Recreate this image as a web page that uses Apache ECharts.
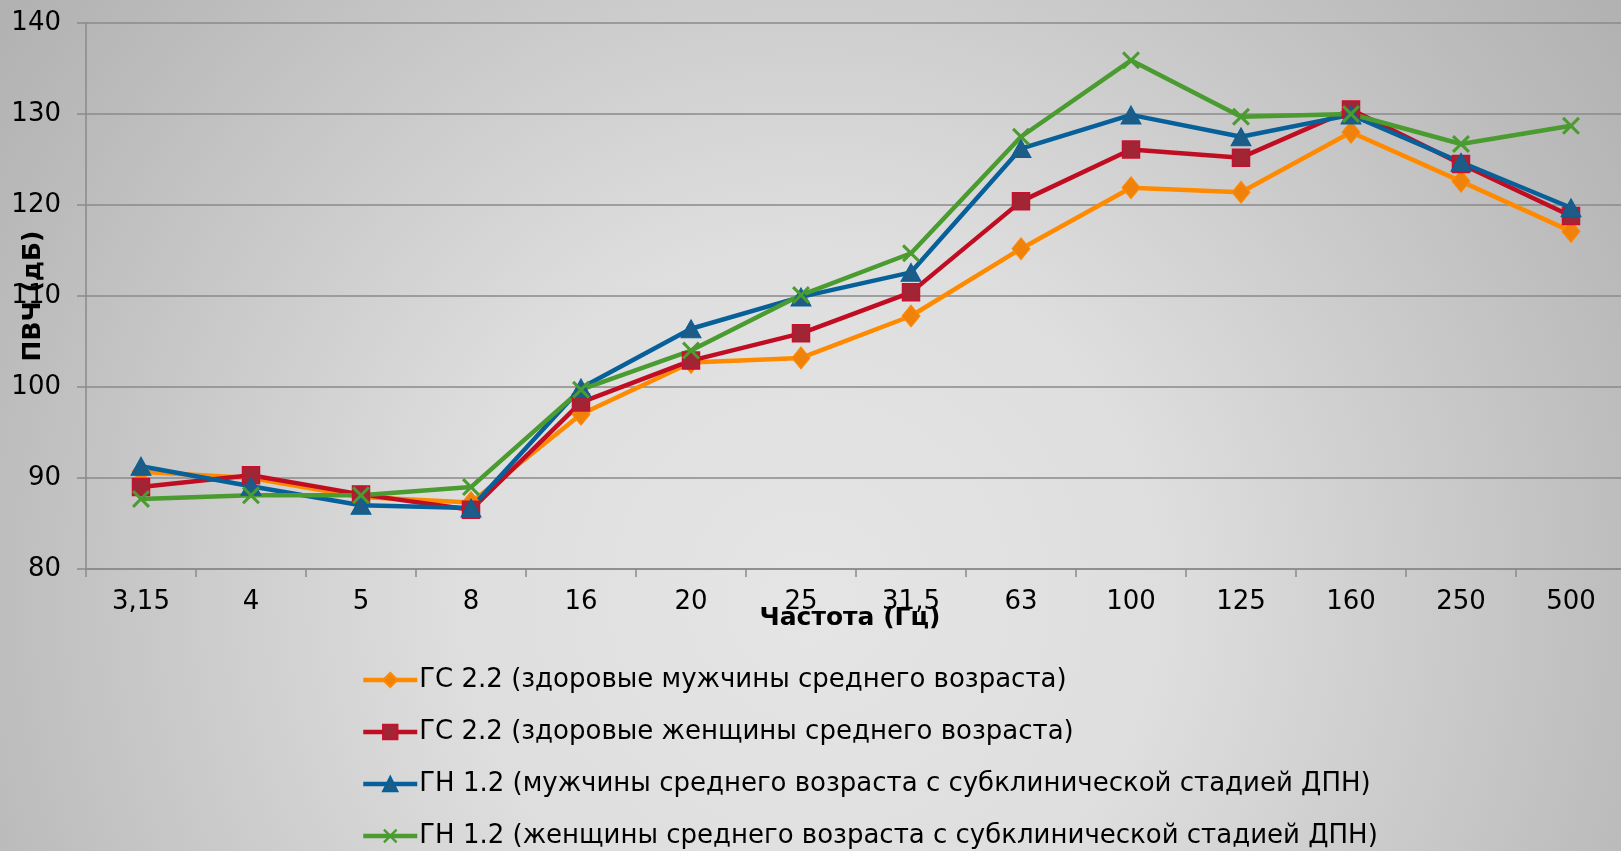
<!DOCTYPE html>
<html><head><meta charset="utf-8">
<script src="https://cdn.jsdelivr.net/npm/echarts@6/dist/echarts.min.js"></script>
<style>html,body{margin:0;padding:0;}#c{width:1621px;height:851px;}</style>
</head><body><div id="c"></div>
<script>
const categories = ['3,15','4','5','8','16','20','25','31,5','63','100','125','160','250','500'];
const menHealthy   = [90.7, 90.0, 87.9, 87.3, 97.0, 102.7, 103.2, 107.8, 115.2, 121.9, 121.4, 128.0, 122.6, 117.1];
const womenHealthy = [89.0, 90.3, 88.2, 86.5, 98.3, 102.9, 105.9, 110.4, 120.4, 126.1, 125.2, 130.5, 124.5, 118.8];
const menDPN       = [91.3, 89.1, 87.0, 86.7, 99.9, 106.4, 109.9, 112.6, 126.2, 129.9, 127.5, 129.9, 124.7, 119.7];
const womenDPN     = [87.7, 88.1, 88.1, 89.0, 99.7, 104.0, 110.1, 114.7, 127.5, 135.9, 129.7, 130.0, 126.7, 128.7];
const seriesNames = [
  'ГС 2.2 (здоровые мужчины среднего возраста)',
  'ГС 2.2 (здоровые женщины среднего возраста)',
  'ГН 1.2 (мужчины среднего возраста с субклинической стадией ДПН)',
  'ГН 1.2 (женщины среднего возраста с субклинической стадией ДПН)'
];
const xTitle = 'Частота (Гц)';
const yTitle = 'ПВЧ (дБ)';

const FONT = '"DejaVu Sans", Verdana, sans-serif';
const gridColor = '#8a8a8a';
const xSymbol = 'path://M0,1.2 L1.2,0 L5,3.8 L8.8,0 L10,1.2 L6.2,5 L10,8.8 L8.8,10 L5,6.2 L1.2,10 L0,8.8 L3.8,5 Z';

const chart = echarts.init(document.getElementById('c'), null, {renderer:'canvas'});
chart.setOption({
  animation: false,
  backgroundColor: {
    type: 'radial', x: 0.5, y: 0.7, r: 1.2,
    colorStops: [
      {offset: 0, color: '#e5e5e5'},
      {offset: 0.35, color: '#dedede'},
      {offset: 0.83, color: '#bbbbbb'},
      {offset: 1, color: '#b0b0b0'}
    ]
  },
  textStyle: {fontFamily: FONT},
  grid: {left: 86, top: 23, width: 1540, height: 546, containLabel: false, outerBoundsMode: 'none'},
  legend: {
    orient: 'vertical', left: 356, top: 662, height: 240, width: 1200,
    itemWidth: 54, itemHeight: 18, itemGap: 26,
    lineStyle: {width: 4.5},
    textStyle: {fontFamily: FONT, fontSize: 26, color: '#000', padding: [0,0,0,-3]},
    data: seriesNames
  },
  xAxis: {
    type: 'category', data: categories, boundaryGap: true,
    name: xTitle, nameLocation: 'middle', nameGap: 37, nameMoveOverlap: false,
    nameTextStyle: {fontFamily: FONT, fontSize: 25, fontWeight: 'bold', color: '#000', padding: [0, 12, 0, 0]},
    axisLine: {lineStyle: {color: gridColor, width: 1.5}},
    axisTick: {show: true, length: 8, lineStyle: {color: gridColor, width: 1.5}},
    axisLabel: {fontFamily: FONT, fontSize: 26, color: '#000', margin: 20}
  },
  yAxis: {
    type: 'value', min: 80, max: 140, interval: 10,
    name: yTitle, nameLocation: 'middle', nameGap: 40, nameMoveOverlap: false,
    nameTextStyle: {fontFamily: FONT, fontSize: 25, fontWeight: 'bold', color: '#000'},
    axisLine: {show: true, lineStyle: {color: gridColor, width: 1.5}},
    axisTick: {show: true, length: 9, lineStyle: {color: gridColor, width: 1.5}},
    axisLabel: {fontFamily: FONT, fontSize: 26, color: '#000', margin: 25},
    splitLine: {lineStyle: {color: gridColor, width: 1.5}}
  },
  series: [
    {name: seriesNames[0], type: 'line', data: menHealthy, symbol: 'diamond', symbolSize: [18, 22],
     lineStyle: {color: '#ff8a00', width: 4.5}, itemStyle: {color: '#f0820c', borderColor: '#ff8a00', borderWidth: 1}},
    {name: seriesNames[1], type: 'line', data: womenHealthy, symbol: 'rect', symbolSize: 17,
     lineStyle: {color: '#c10d22', width: 4.5}, itemStyle: {color: '#a22535', borderColor: '#c8102e', borderWidth: 1.5}},
    {name: seriesNames[2], type: 'line', data: menDPN, symbol: 'triangle', symbolSize: [20, 18],
     lineStyle: {color: '#07609a', width: 4.5}, itemStyle: {color: '#1d5c86', borderColor: '#07609a', borderWidth: 1}},
    {name: seriesNames[3], type: 'line', data: womenDPN, symbol: xSymbol, symbolSize: 18,
     lineStyle: {color: '#4a9b30', width: 4.5}, itemStyle: {color: '#4a9b30'}}
  ]
});
</script></body></html>
